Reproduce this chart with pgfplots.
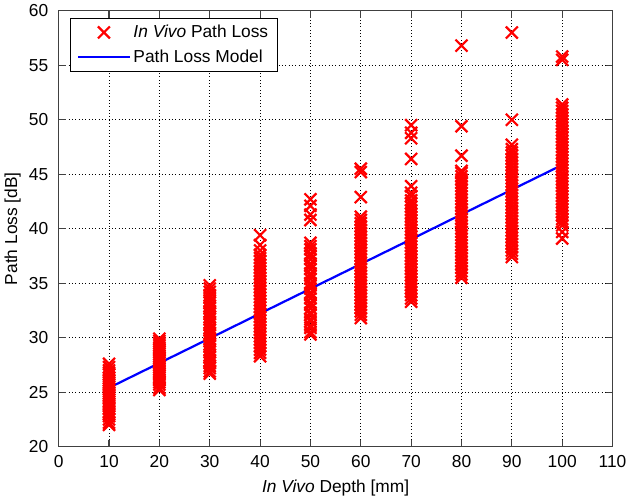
\documentclass[border=0pt]{standalone}
\usepackage{pgfplots}
\pgfplotsset{compat=1.18}
\usepackage{fontspec}
\setmainfont{Liberation Sans}
\definecolor{mred}{RGB}{255,0,0}
\definecolor{mblue}{RGB}{0,0,255}
\newcommand{\lblfont}{\fontsize{12.5}{15}\selectfont}
\begin{document}
\begin{tikzpicture}
\begin{axis}[
    scale only axis,
    width=399pt, height=314pt,
    xmin=0, xmax=110, ymin=20, ymax=60,
    xtick={0,10,...,110}, ytick={20,25,...,60},
    grid=major,
    major grid style={black, dotted, line width=0.6pt},
    tick align=inside,
    major tick length=5pt,
    axis line style={black!75, line width=0.8pt},
    tick style={black!75, line width=0.8pt},
    xlabel={\textit{In Vivo} Depth [mm]},
    ylabel={Path Loss [dB]},
    /pgf/number format/assume math mode=true,
    tick label style={font=\lblfont},
    label style={font=\lblfont},
    xlabel style={yshift=-2pt},
    ylabel style={yshift=-1pt},
    xticklabel style={yshift=-3pt},
    yticklabel style={xshift=-4pt},
    legend style={at={(0.02,0.984)}, anchor=north west, draw=black,
        line width=0.6pt,
        font=\lblfont, cells={anchor=west}, row sep=3pt,
        inner xsep=5pt, inner ysep=3pt},
    legend image code/.code={
        \draw[#1] (0cm,0cm) -- (1.3cm,0cm);
    },
]
\addplot[only marks, mark=x, mark size=6.1pt, color=mred, line width=1.6pt,
    legend image code/.code={\draw[only marks, mark=x, mark size=6.1pt, mred, line width=1.6pt] plot coordinates {(0.65cm,0cm)};}]
coordinates {
(10,22.0)(10,22.2)(10,22.5)(10,22.8)(10,23.0)(10,23.2)(10,23.5)(10,23.7)(10,23.9)(10,24.1)(10,24.3)(10,24.5)(10,24.7)(10,24.9)(10,25.1)(10,25.3)(10,25.5)(10,25.7)(10,25.9)(10,26.1)(10,26.3)(10,26.6)(10,26.8)(10,27.0)(10,27.3)(10,27.6)
(20,25.2)(20,25.4)(20,25.7)(20,25.9)(20,26.1)(20,26.3)(20,26.5)(20,26.7)(20,26.9)(20,27.1)(20,27.3)(20,27.5)(20,27.7)(20,27.9)(20,28.1)(20,28.3)(20,28.5)(20,28.7)(20,28.9)(20,29.1)(20,29.3)(20,29.5)(20,29.7)(20,29.9)
(30,26.7)(30,26.9)(30,27.2)(30,27.4)(30,27.7)(30,27.9)(30,28.2)(30,28.4)(30,28.7)(30,28.9)(30,29.2)(30,29.4)(30,29.7)(30,29.9)(30,30.2)(30,30.4)(30,30.7)(30,30.9)(30,31.2)(30,31.4)(30,31.7)(30,31.9)(30,32.2)(30,32.4)(30,32.7)(30,32.9)(30,33.2)(30,33.4)(30,33.7)(30,33.9)(30,34.2)(30,34.5)(30,34.8)
(40,28.3)(40,28.6)(40,28.9)(40,29.2)(40,29.5)(40,29.8)(40,30.1)(40,30.4)(40,30.7)(40,31.0)(40,31.3)(40,31.6)(40,31.9)(40,32.2)(40,32.5)(40,32.8)(40,33.1)(40,33.4)(40,33.7)(40,34.0)(40,34.3)(40,34.6)(40,34.9)(40,35.2)(40,35.5)(40,35.8)(40,36.1)(40,36.4)(40,36.7)(40,37.0)(40,37.3)(40,37.6)(40,38.0)(40,38.5)(40,39.4)
(50,30.3)(50,30.5)(50,30.9)(50,31.1)(50,31.5)(50,31.7)(50,32.1)(50,32.3)(50,32.7)(50,33.0)(50,33.2)(50,33.6)(50,33.9)(50,34.1)(50,34.5)(50,34.8)(50,35.0)(50,35.4)(50,35.7)(50,35.9)(50,36.3)(50,36.6)(50,36.8)(50,37.2)(50,37.5)(50,37.7)(50,38.1)(50,38.4)(50,38.7)(50,40.8)(50,41.3)(50,42.1)(50,42.7)
(60,31.8)(60,32.1)(60,32.4)(60,32.7)(60,33.0)(60,33.3)(60,33.6)(60,33.9)(60,34.2)(60,34.5)(60,34.8)(60,35.1)(60,35.4)(60,35.7)(60,36.0)(60,36.3)(60,36.6)(60,36.9)(60,37.2)(60,37.5)(60,37.8)(60,38.1)(60,38.4)(60,38.7)(60,39.0)(60,39.3)(60,39.6)(60,39.9)(60,40.2)(60,40.5)(60,40.8)(60,41.1)(60,42.9)(60,45.2)(60,45.5)
(70,33.3)(70,33.6)(70,33.9)(70,34.2)(70,34.5)(70,34.8)(70,35.1)(70,35.4)(70,35.7)(70,36.0)(70,36.3)(70,36.6)(70,36.9)(70,37.2)(70,37.5)(70,37.8)(70,38.1)(70,38.4)(70,38.7)(70,39.0)(70,39.3)(70,39.6)(70,39.9)(70,40.2)(70,40.5)(70,40.8)(70,41.1)(70,41.4)(70,41.7)(70,42.0)(70,42.3)(70,42.6)(70,43.0)(70,43.3)(70,43.9)(70,46.4)(70,48.3)(70,48.8)(70,49.5)
(80,35.5)(80,35.8)(80,36.1)(80,36.4)(80,36.7)(80,37.0)(80,37.3)(80,37.6)(80,37.9)(80,38.2)(80,38.5)(80,38.8)(80,39.1)(80,39.4)(80,39.7)(80,40.0)(80,40.3)(80,40.6)(80,40.9)(80,41.2)(80,41.5)(80,41.8)(80,42.1)(80,42.4)(80,42.7)(80,43.0)(80,43.3)(80,43.6)(80,43.9)(80,44.2)(80,44.5)(80,44.8)(80,45.1)(80,45.3)(80,46.7)(80,49.4)(80,56.8)
(90,37.4)(90,37.7)(90,38.0)(90,38.3)(90,38.6)(90,38.9)(90,39.2)(90,39.5)(90,39.8)(90,40.1)(90,40.4)(90,40.7)(90,41.0)(90,41.3)(90,41.6)(90,41.9)(90,42.2)(90,42.5)(90,42.8)(90,43.1)(90,43.4)(90,43.7)(90,44.0)(90,44.3)(90,44.6)(90,44.9)(90,45.2)(90,45.5)(90,45.8)(90,46.1)(90,46.4)(90,46.7)(90,47.0)(90,47.3)(90,47.7)(90,50.0)(90,58.0)
(100,39.1)(100,39.7)(100,40.3)(100,40.6)(100,40.9)(100,41.2)(100,41.5)(100,41.8)(100,42.1)(100,42.4)(100,42.7)(100,43.0)(100,43.3)(100,43.6)(100,43.9)(100,44.2)(100,44.5)(100,44.8)(100,45.1)(100,45.4)(100,45.7)(100,46.0)(100,46.3)(100,46.6)(100,46.9)(100,47.2)(100,47.5)(100,47.8)(100,48.1)(100,48.4)(100,48.7)(100,49.0)(100,49.3)(100,49.6)(100,49.9)(100,50.2)(100,50.5)(100,50.8)(100,51.1)(100,51.4)(100,55.5)(100,55.8)
};
\addlegendentry{\textit{In Vivo} Path Loss}
\addplot[color=mblue, line width=1.6pt, no marks]
coordinates {(10,25.4)(20,27.67)(30,29.94)(40,32.22)(50,34.49)(60,36.76)(70,39.03)(80,41.31)(90,43.58)(100,45.85)};
\addlegendentry{Path Loss Model}
\end{axis}
\end{tikzpicture}
\end{document}
